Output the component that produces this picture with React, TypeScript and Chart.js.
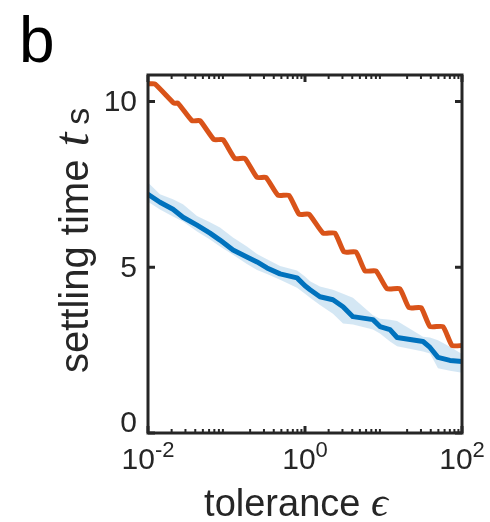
import React, { useEffect, useRef } from 'react';
import { Chart, registerables } from 'chart.js';

Chart.register(...registerables);

// tolerance values (x) for the blue series and its band
const blueEps = [0.01, 0.0142, 0.0208, 0.0279, 0.0421, 0.0616, 0.0826, 0.121, 0.182, 0.245, 0.328, 0.481, 0.791, 1.0, 1.16, 1.55, 2.27, 3.05, 4.08, 7.34, 9.02, 12.1, 14.9, 31.9, 39.1, 49.4, 70.3, 100];
const blueMean = [7.2, 6.96, 6.75, 6.51, 6.27, 6.03, 5.82, 5.52, 5.31, 5.16, 4.98, 4.8, 4.68, 4.44, 4.32, 4.11, 4.02, 3.81, 3.51, 3.42, 3.21, 3.12, 2.88, 2.76, 2.58, 2.28, 2.19, 2.16];
const blueUpper = [7.56, 7.2, 7.05, 6.9, 6.55, 6.36, 6.2, 5.9, 5.63, 5.4, 5.24, 5.04, 4.9, 4.72, 4.58, 4.42, 4.32, 4.2, 4.08, 3.55, 3.45, 3.42, 3.38, 2.9, 2.88, 2.8, 2.6, 2.38];
const blueLower = [6.98, 6.74, 6.53, 6.38, 6.08, 5.84, 5.63, 5.38, 5.1, 4.92, 4.8, 4.62, 4.38, 4.2, 4.08, 3.86, 3.6, 3.3, 3.27, 3.12, 3.0, 2.76, 2.62, 2.46, 2.4, 1.95, 1.88, 1.82];

// orange staircase (start / end of each plateau)
const orangeEps = [0.01, 0.01227, 0.0214, 0.0241, 0.0364, 0.046, 0.0693, 0.0902, 0.128, 0.172, 0.245, 0.318, 0.453, 0.625, 0.84, 1.125, 1.7, 2.41, 3.14, 4.47, 5.81, 8.02, 11.1, 16.2, 21.1, 30.1, 39.1, 57.3, 74.6, 100];
const orangeT = [10.53, 10.53, 9.95, 9.95, 9.42, 9.42, 8.85, 8.85, 8.28, 8.28, 7.71, 7.71, 7.17, 7.17, 6.6, 6.6, 6.03, 6.03, 5.46, 5.46, 4.89, 4.89, 4.35, 4.35, 3.78, 3.78, 3.21, 3.21, 2.64, 2.64];

const yTickValues = [0, 5, 10];
const yTickLabels = ['0', '5', '10'];
const xMajorTicks = [0.01, 1, 100];
const xTickExponents = ['-2', '0', '2'];
const xDecades = [0.01, 0.1, 1, 10];
const xMinorMultipliers = [2, 3, 4, 5, 6, 7, 8, 9];

const BLUE = '#0072BD';
const ORANGE = '#D95319';
const BAND = 'rgba(0,114,189,0.17)';
const INK = '#262626';
const SANS = '"Liberation Sans", Arial, Helvetica, sans-serif';
const SERIF = '"Liberation Serif", "DejaVu Serif", serif';

const pts = (xs: number[], ys: number[]) => xs.map((x, i) => ({ x, y: ys[i] }));

const framePlugin = {
  id: 'frame',
  afterDatasetsDraw(chart: any) {
    const { ctx, chartArea: a, scales } = chart;
    const x = scales.x;
    const y = scales.y;
    ctx.save();
    ctx.strokeStyle = INK;
    ctx.lineCap = 'butt';
    const seg = (x1: number, y1: number, x2: number, y2: number) => {
      ctx.beginPath();
      ctx.moveTo(x1, y1);
      ctx.lineTo(x2, y2);
      ctx.stroke();
    };
    ctx.lineWidth = 3;
    yTickValues.forEach((v) => {
      const py = y.getPixelForValue(v);
      seg(a.left, py, a.left + 7, py);
      seg(a.right - 7, py, a.right, py);
    });
    xMajorTicks.forEach((v) => {
      const px = x.getPixelForValue(v);
      seg(px, a.bottom, px, a.bottom - 7);
      seg(px, a.top, px, a.top + 7);
    });
    ctx.lineWidth = 2;
    xDecades.forEach((d) =>
      xMinorMultipliers.forEach((m) => {
        const px = x.getPixelForValue(d * m);
        seg(px, a.bottom, px, a.bottom - 4);
        seg(px, a.top, px, a.top + 4);
      })
    );
    ctx.lineWidth = 3;
    ctx.strokeRect(a.left, a.top, a.right - a.left, a.bottom - a.top);
    ctx.restore();
  },
  afterDraw(chart: any) {
    const { ctx, chartArea: a, scales } = chart;
    const x = scales.x;
    const y = scales.y;
    ctx.save();
    ctx.fillStyle = INK;
    // y tick labels
    ctx.font = `30px ${SANS}`;
    ctx.textAlign = 'right';
    ctx.textBaseline = 'middle';
    yTickValues.forEach((v, i) => {
      let py = y.getPixelForValue(v);
      if (py > a.bottom - 12) py = a.bottom - 10;
      ctx.fillText(yTickLabels[i], a.left - 11, py + 1);
    });
    // x tick labels 10^k
    ctx.textAlign = 'left';
    ctx.textBaseline = 'alphabetic';
    xMajorTicks.forEach((v, i) => {
      const px = x.getPixelForValue(v);
      ctx.font = `30px ${SANS}`;
      const wb = ctx.measureText('10').width;
      ctx.font = `22px ${SANS}`;
      const we = ctx.measureText(xTickExponents[i]).width;
      const start = px - (wb + we) / 2;
      ctx.font = `30px ${SANS}`;
      ctx.fillText('10', start, 469);
      ctx.font = `22px ${SANS}`;
      ctx.fillText(xTickExponents[i], start + wb, 457);
    });
    // x title
    const LF = 38;
    ctx.font = `${LF}px ${SANS}`;
    const t1 = 'tolerance ';
    const w1 = ctx.measureText(t1).width;
    ctx.font = `italic 42px ${SERIF}`;
    const w2 = ctx.measureText('ϵ').width;
    const sx = 296 - (w1 + w2) / 2;
    ctx.font = `${LF}px ${SANS}`;
    ctx.fillText(t1, sx, 516);
    ctx.font = `italic 42px ${SERIF}`;
    ctx.fillText('ϵ', sx + w1, 516);
    // y title (rotated); text x = -screenY
    ctx.save();
    ctx.translate(88, 0);
    ctx.rotate(-Math.PI / 2);
    ctx.font = `40px ${SANS}`;
    const s1 = 'settling time';
    const ws1 = ctx.measureText(s1).width;
    let ox = -373;
    ctx.fillText(s1, ox, 0);
    ox += ws1 + 13;
    ctx.font = `italic 50px ${SERIF}`;
    ctx.fillText('t', ox, 0);
    const wt = ctx.measureText('t').width;
    ox += wt + 8;
    ctx.font = `34px ${SANS}`;
    ctx.fillText('s', ox, 1);
    ctx.restore();
    // panel letter
    ctx.fillStyle = '#000';
    ctx.font = `64px ${SANS}`;
    ctx.fillText('b', 19, 62);
    ctx.restore();
  },
};

export default function App() {
  const ref = useRef<HTMLCanvasElement>(null);
  useEffect(() => {
    document.body.style.margin = '0';
    const chart = new Chart(ref.current as HTMLCanvasElement, {
      type: 'line',
      data: {
        datasets: [
          {
            data: pts(orangeEps, orangeT),
            borderColor: ORANGE,
            borderWidth: 5,
            pointRadius: 0,
            tension: 0.15,
            borderJoinStyle: 'round',
            borderCapStyle: 'round',
            fill: false,
          },
          {
            data: pts(blueEps, blueMean),
            borderColor: BLUE,
            borderWidth: 5,
            pointRadius: 0,
            tension: 0,
            borderJoinStyle: 'round',
            borderCapStyle: 'round',
            fill: false,
          },
          {
            data: pts(blueEps, blueUpper),
            borderWidth: 0,
            borderColor: 'rgba(0,0,0,0)',
            backgroundColor: BAND,
            pointRadius: 0,
            fill: '+1',
          },
          {
            data: pts(blueEps, blueLower),
            borderWidth: 0,
            borderColor: 'rgba(0,0,0,0)',
            pointRadius: 0,
            fill: false,
          },
        ],
      },
      options: {
        responsive: false,
        animation: false,
        devicePixelRatio: 1,
        layout: { padding: { left: 148, top: 75, right: 28, bottom: 89 } },
        plugins: { legend: { display: false }, tooltip: { enabled: false } },
        scales: {
          x: { type: 'logarithmic', min: 0.01, max: 100, display: false },
          y: { type: 'linear', min: 0, max: 10.8, display: false },
        },
      } as any,
      plugins: [framePlugin],
    });
    return () => chart.destroy();
  }, []);
  return (
    <div style={{ position: 'fixed', left: 0, top: 0, width: 490, height: 522, background: '#fff' }}>
      <canvas ref={ref} width={490} height={522} style={{ width: 490, height: 522 }} />
    </div>
  );
}
